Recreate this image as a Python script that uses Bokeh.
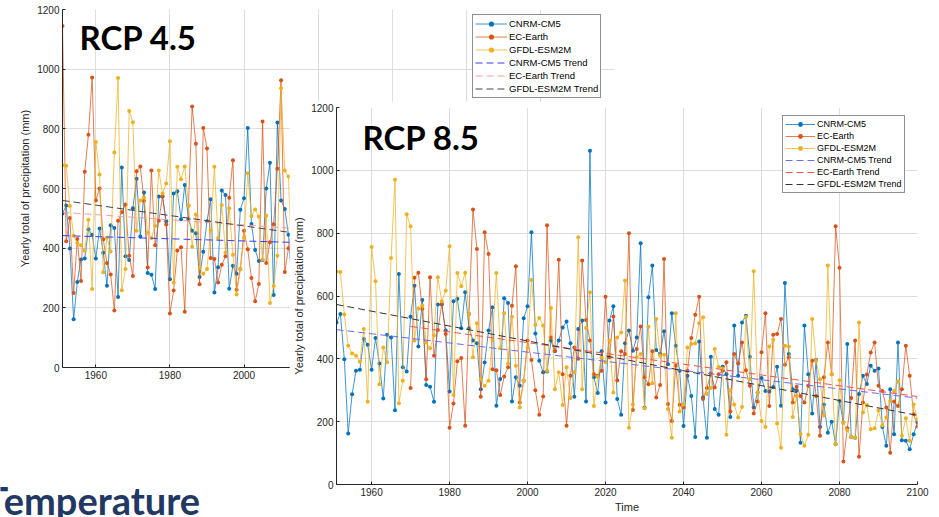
from bokeh.plotting import figure
from bokeh.layouts import column
from bokeh.models import Range1d, Legend, LegendItem, Label, FixedTicker
from bokeh.embed import file_html
from bokeh.resources import INLINE

# ---------------- data (mm per year) ----------------
HIST_START = 1951
EC_START = 1970
FUT_START = 2006

cnrm_hist = [516, 543, 399, 162, 287, 362, 365, 463, 445, 365,
             466, 385, 274, 477, 468, 236, 670, 373, 360, 534,
             633, 439, 587, 317, 311, 263, 573, 573, 490, 296,
             583, 591, 497, 612, 497, 458, 450, 303, 388, 490,
             564, 251, 336, 593, 578, 264, 341, 314, 529, 567,
             803, 481, 394, 357, 360]
ec_hist_early = [1145, 423, 501, 250, 431, 290, 656, 780, 972, 560,
                 600, 430, 350, 312, 191, 492, 520, 546, 375]
ec_hist = [307, 658, 674, 559, 335, 660, 410, 492, 575, 479,
           181, 258, 392, 403, 187, 543, 875, 750, 279, 803,
           734, 367, 364, 285, 344, 373, 569, 695, 261, 330,
           458, 396, 300, 222, 280, 825]
gfdl_hist = [678, 676, 541, 442, 417, 410, 391, 495, 263, 756,
             647, 319, 436, 389, 721, 970, 259, 330, 860, 822,
             458, 560, 570, 452, 434, 474, 660, 583, 617, 758,
             285, 673, 631, 674, 543, 405, 513, 335, 314, 330,
             460, 673, 434, 545, 385, 534, 378, 245, 330, 436,
             651, 508, 530, 506, 362]

cnrm_45 = [600, 686, 243, 821, 560, 531, 445, 260, 649]
ec_45 = [350, 420, 480, 666, 963, 320, 400, 470, 626]
gfdl_45 = [509, 216, 273, 375, 936, 660, 640, 292, 381]

cnrm_85 = [458, 424, 458, 500, 519, 450, 279, 495, 522, 264,
           1062, 341, 291, 424, 261, 522, 567, 272, 222, 450,
           490, 426, 468, 768, 245, 596, 697, 428, 415, 488,
           383, 545, 442, 362, 186, 346, 282, 151, 455, 277,
           149, 407, 240, 222, 375, 351, 215, 506, 346, 516,
           537, 407, 245, 293, 339, 298, 296, 310, 375, 251,
           641, 415, 303, 300, 133, 506, 351, 226, 396, 183,
           255, 165, 200, 128, 266, 197, 447, 151, 149, 288,
           346, 320, 378, 362, 369, 183, 123, 303, 160, 452,
           141, 139, 112, 160, 197]
ec_85 = [468, 426, 715, 351, 187, 346, 436, 400, 713, 524,
         458, 351, 346, 362, 598, 405, 535, 331, 424, 415,
         800, 237, 431, 503, 341, 319, 424, 277, 317, 718,
         256, 202, 378, 254, 245, 362, 466, 540, 598, 272,
         307, 353, 309, 351, 362, 389, 232, 415, 385, 452,
         364, 314, 226, 264, 421, 545, 250, 477, 479, 527,
         381, 405, 261, 311, 282, 261, 314, 394, 282, 155,
         341, 452, 351, 822, 690, 73, 179, 275, 458, 88,
         261, 350, 420, 452, 314, 298, 245, 101, 264, 250,
         303, 442, 346, 224, 185]
gfdl_85 = [562, 303, 357, 253, 373, 275, 357, 787, 303, 498,
           612, 250, 343, 405, 389, 458, 293, 468, 484, 649,
           181, 255, 405, 415, 243, 502, 322, 527, 410, 413,
           240, 149, 545, 232, 255, 436, 447, 449, 513, 532,
           288, 307, 431, 375, 369, 158, 300, 255, 213, 247,
           534, 335, 679, 293, 202, 183, 439,
           460, 194, 117, 442, 439, 215, 282, 160, 123, 158,
           527, 394, 335, 220, 697, 351, 128, 332, 197, 173,
           151, 149, 516, 229, 253, 176, 179, 236, 188, 213,
           266, 298, 328, 155, 211, 139, 255, 208]

# trend lines (end points)
t45_years = [1951, 2014]
t45_cnrm = [442, 419]
t45_ec = [520, 466]
t45_gfdl = [560, 450]
t85_years = [1951, 2100]
t85_ec_years = [1970, 2100]
t85_cnrm = [493, 275]
t85_ec = [503, 280]
t85_gfdl = [573, 220]

x_ticks = [1960, 1980, 2000, 2020, 2040, 2060, 2080, 2100]
y_ticks = [0, 200, 400, 600, 800, 1000, 1200]
names = ["CNRM-CM5", "EC-Earth", "GFDL-ESM2M"]

# ---------------- styles ----------------
COLS = ["#0072BD", "#D95319", "#EDB120"]
AX = "#262626"
GRID = "#dedede"
FONT = "Liberation Sans"


def yrs(start, vals):
    return [start + i for i in range(len(vals))]


def style(p):
    p.outline_line_color = None
    p.background_fill_color = "white"
    p.border_fill_color = "white"
    p.xaxis.ticker = FixedTicker(ticks=x_ticks)
    p.yaxis.ticker = FixedTicker(ticks=y_ticks)
    for ax in (p.xaxis, p.yaxis):
        ax.axis_line_color = AX
        ax.major_tick_line_color = AX
        ax.major_tick_in = 3
        ax.major_tick_out = 0
        ax.minor_tick_line_color = None
        ax.major_label_text_font = FONT
        ax.major_label_text_font_size = "10px"
        ax.major_label_text_color = AX
        ax.axis_label_text_font = FONT
        ax.axis_label_text_font_size = "11px"
        ax.axis_label_text_font_style = "normal"
        ax.axis_label_text_color = AX
        ax.major_label_standoff = 3
        ax.axis_label_standoff = 3
    p.xaxis.axis_label_standoff = 2
    p.xgrid.grid_line_color = GRID
    p.ygrid.grid_line_color = GRID


def draw_series(p, series):
    items = []
    for (x, y), c, n in zip(series, COLS, names):
        r1 = p.line(x, y, line_color=c, line_width=1, line_alpha=0.75)
        r2 = p.scatter(x, y, size=4, marker="circle", fill_color=c, line_color=None)
        items.append(LegendItem(label=n, renderers=[r1, r2]))
    return items


def draw_trends(p, trends, colors):
    items = []
    for (x, y), c, n in zip(trends, colors, names):
        r = p.line(x, y, line_color=c, line_width=1, line_dash="7 4")
        items.append(LegendItem(label=n + " Trend", renderers=[r]))
    return items


def make_legend(items, loc, fs, lh, gw):
    return Legend(items=items, location=loc, label_text_font=FONT,
                  label_text_font_size=fs, label_text_color="#000000",
                  label_height=lh, glyph_height=lh, glyph_width=gw,
                  label_standoff=2, spacing=0, padding=2, margin=0,
                  border_line_color="#222222", border_line_width=1,
                  background_fill_color="white", background_fill_alpha=1)


BL, BR = 47, 22   # shared left/right borders (frames are aligned in the column)

# ---------------- RCP 4.5 (back) ----------------
pL = figure(width=BL + 552 + BR, height=517, x_range=Range1d(1951, 2100), y_range=Range1d(0, 1200),
            output_backend="svg", toolbar_location=None,
            min_border_left=BL, min_border_right=BR, min_border_top=9, min_border_bottom=150)
style(pL)
pL.yaxis.axis_label = "Yearly total of precipitation (mm)"

left_series = [
    (yrs(HIST_START, cnrm_hist + cnrm_45), cnrm_hist + cnrm_45),
    (yrs(HIST_START, ec_hist_early + ec_hist + ec_45), ec_hist_early + ec_hist + ec_45),
    (yrs(HIST_START, gfdl_hist + gfdl_45), gfdl_hist + gfdl_45),
]
itemsL = draw_series(pL, left_series)
itemsL += draw_trends(pL, [(t45_years, t45_cnrm), (t45_years, t45_ec), (t45_years, t45_gfdl)],
                      ["#3a3aff", "#ff9a9a", "#444444"])
pL.add_layout(make_legend(itemsL, (410, 269), "9.5px", 13, 32))
pL.add_layout(Label(x=1951, y=1200, x_offset=17, y_offset=-7, text="RCP 4.5",
                    text_font="Lato", text_font_style="bold", text_font_size="33px",
                    text_color="black", text_baseline="top", text_align="left"))
pL.margin = (0, 0, 0, 62 - BL)

# ---------------- RCP 8.5 (front) ----------------
pR = figure(width=BL + 581 + BR, height=416, x_range=Range1d(1951, 2100), y_range=Range1d(0, 1200),
            output_backend="svg", toolbar_location=None,
            min_border_left=BL, min_border_right=BR, min_border_top=6, min_border_bottom=33)
style(pR)
pR.yaxis.axis_label = "Yearly total of precipitation (mm)"
pR.xaxis.axis_label = "Time"

right_series = [
    (yrs(HIST_START, cnrm_hist + cnrm_85), cnrm_hist + cnrm_85),
    (yrs(EC_START, ec_hist + ec_85), ec_hist + ec_85),
    (yrs(HIST_START, gfdl_hist + gfdl_85), gfdl_hist + gfdl_85),
]
itemsR = draw_series(pR, right_series)
itemsR += draw_trends(pR, [(t85_years, t85_cnrm), (t85_ec_years, t85_ec), (t85_years, t85_gfdl)],
                      ["#6a6aff", "#ff5050", "#333333"])
pR.add_layout(make_legend(itemsR, (446, 291), "9px", 12, 30))
pR.add_layout(Label(x=1951, y=1200, x_offset=26, y_offset=-9, text="RCP 8.5",
                    text_font="Lato", text_font_style="bold", text_font_size="33px",
                    text_color="black", text_baseline="top", text_align="left"))
pR.margin = (-416, 0, 0, 336 - BL)

# ---------------- slide caption underneath ----------------
pT = figure(width=BL + 240 + BR, height=40, x_range=Range1d(0, 240), y_range=Range1d(0, 40),
            x_axis_type=None, y_axis_type=None, output_backend="svg", toolbar_location=None,
            min_border_left=BL, min_border_right=BR, min_border_top=0, min_border_bottom=0)
pT.grid.visible = False
pT.outline_line_color = None
pT.add_layout(Label(x=-15, y=40, y_offset=1, text="Temperature", text_font="Lato",
                    text_font_style="bold", text_font_size="38px", text_color="#1f3864",
                    text_baseline="top", text_align="left"))
pT.margin = (-40, 0, 0, -BL)

layout = column(pL, pR, pT)
open("out.html", "w").write(file_html(layout, INLINE))
